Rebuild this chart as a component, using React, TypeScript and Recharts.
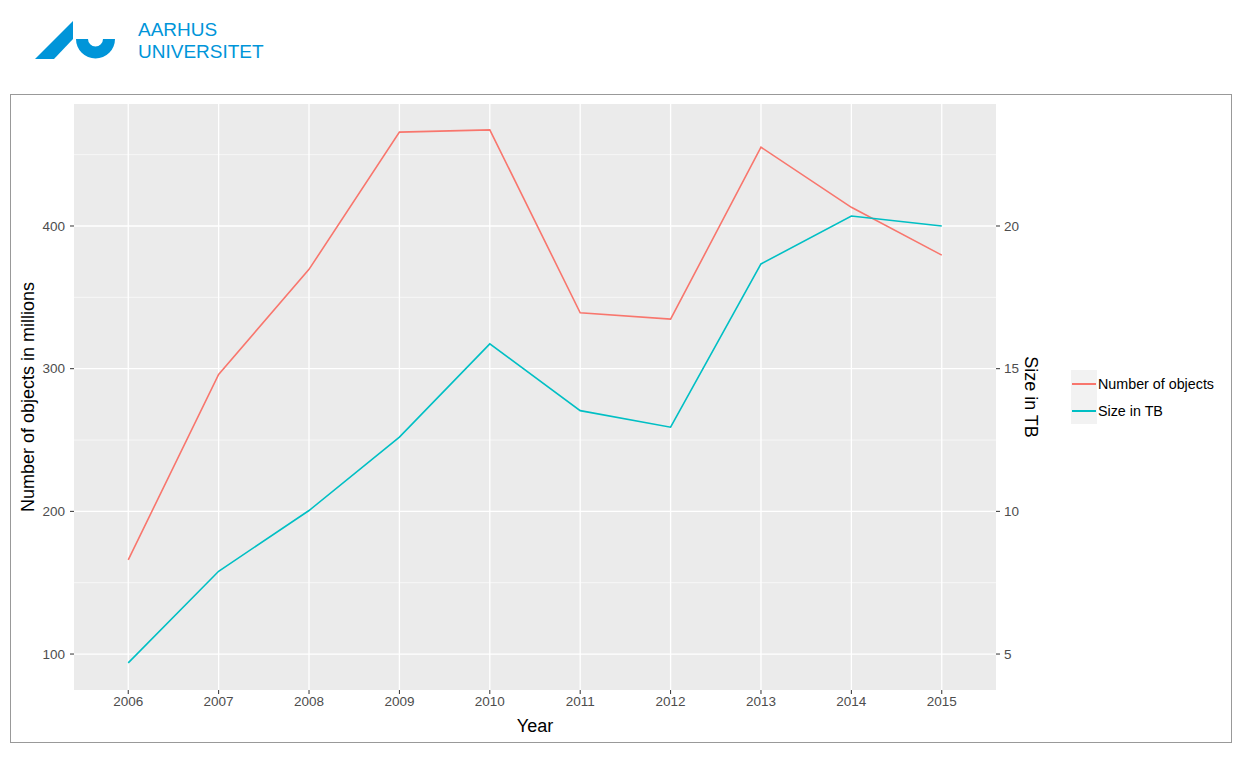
import { LineChart, Line, XAxis, YAxis, CartesianGrid, ReferenceLine } from "recharts";

const YEARS = [2006, 2007, 2008, 2009, 2010, 2011, 2012, 2013, 2014, 2015];
const OBJECTS = [166, 296, 369.6, 465.8, 467.4, 339.2, 334.7, 455.2, 413.1, 379.6];
const SIZE_TB = [4.69, 7.9, 10.03, 12.6, 15.87, 13.53, 12.95, 18.67, 20.35, 20.0];

const LEFT_TICKS = [100, 200, 300, 400];
const RIGHT_TICKS = [5, 10, 15, 20];
const MINOR_TICKS = [150, 250, 350, 450];

const SERIES = [
  { key: "objects", name: "Number of objects", color: "#F8766D", axis: "left" },
  { key: "size", name: "Size in TB", color: "#00BFC4", axis: "right" },
];

const data = YEARS.map((year, i) => ({
  year,
  objects: OBJECTS[i],
  size: SIZE_TB[i],
}));

const FONT = "'Liberation Sans', Arial, Helvetica, sans-serif";
const AU_BLUE = "#0095D9";
const tickStyle = { fill: "#4D4D4D", fontSize: 13.5, fontFamily: FONT };
const titleStyle = { fill: "#000", fontSize: 18, fontFamily: FONT };

function Logo() {
  return (
    <div style={{ position: "absolute", left: 0, top: 0 }}>
      <svg width={130} height={70} style={{ position: "absolute", left: 0, top: 0 }}>
        <polygon points="35,59 73,21 73,39 54,59" fill={AU_BLUE} />
        {/* half ring */}
        <path
          d="M76,39 A19.5,19.5 0 0 0 115,39 L103,39 A7.5,7.5 0 0 1 88,39 Z"
          fill={AU_BLUE}
        />
      </svg>
      <div
        style={{
          position: "absolute",
          left: 138,
          top: 19,
          color: AU_BLUE,
          fontFamily: FONT,
          fontSize: 19,
          lineHeight: "22px",
          whiteSpace: "nowrap",
        }}
      >
        AARHUS
        <br />
        UNIVERSITET
      </div>
    </div>
  );
}

function LegendBox() {
  return (
    <div style={{ position: "absolute", left: 1071, top: 370, fontFamily: FONT }}>
      {SERIES.map((s) => (
        <div key={s.key} style={{ display: "flex", alignItems: "center", height: 27 }}>
          <div style={{ width: 26, height: 27, background: "#F2F2F2", position: "relative" }}>
            <div
              style={{
                position: "absolute",
                left: 1,
                right: 1,
                top: 12.5,
                height: 2,
                background: s.color,
              }}
            />
          </div>
          <span style={{ fontSize: 14.3, color: "#000", marginLeft: 1, whiteSpace: "nowrap" }}>
            {s.name}
          </span>
        </div>
      ))}
    </div>
  );
}

export default function App() {
  return (
    <div
      style={{
        position: "absolute",
        left: 0,
        top: 0,
        width: 1242,
        height: 782,
        background: "#fff",
      }}
    >
      <Logo />
      <div
        style={{
          position: "absolute",
          left: 10,
          top: 94,
          width: 1220,
          height: 647,
          border: "1px solid #999",
        }}
      >
        <LineChart
          width={1220}
          height={647}
          data={data}
          margin={{ top: 9, right: 180, bottom: 7, left: 0 }}
        >
          <CartesianGrid
            yAxisId="left"
            fill="#EBEBEB"
            stroke="#FFFFFF"
            strokeWidth={1.3}
            horizontalValues={LEFT_TICKS}
            verticalValues={YEARS}
          />
          {MINOR_TICKS.map((v) => (
            <ReferenceLine
              key={v}
              yAxisId="left"
              y={v}
              stroke="#FFFFFF"
              strokeWidth={0.6}
            />
          ))}
          <XAxis
            dataKey="year"
            type="number"
            domain={[2005.4, 2015.6]}
            ticks={YEARS}
            allowDataOverflow
            height={45}
            axisLine={false}
            tickLine={{ stroke: "#333", strokeWidth: 1 }}
            tickSize={4}
            tickMargin={2}
            tick={tickStyle}
            label={{ value: "Year", position: "insideBottom", offset: 3, style: titleStyle }}
          />
          <YAxis
            yAxisId="left"
            orientation="left"
            domain={[74.8, 485.5]}
            ticks={LEFT_TICKS}
            allowDataOverflow
            width={63}
            axisLine={false}
            tickLine={{ stroke: "#333", strokeWidth: 1 }}
            tickSize={4}
            tickMargin={5}
            tick={tickStyle}
            label={{
              value: "Number of objects in millions",
              angle: -90,
              position: "center",
              dx: -15,
              style: { ...titleStyle, textAnchor: "middle" },
            }}
          />
          <YAxis
            yAxisId="right"
            orientation="right"
            domain={[74.8 / 20, 485.5 / 20]}
            ticks={RIGHT_TICKS}
            allowDataOverflow
            width={55}
            axisLine={false}
            tickLine={{ stroke: "#333", strokeWidth: 1 }}
            tickSize={4}
            tickMargin={4}
            tick={tickStyle}
            label={{
              value: "Size in TB",
              angle: 90,
              position: "center",
              dx: 8,
              style: { ...titleStyle, textAnchor: "middle" },
            }}
          />
          {SERIES.map((s) => (
            <Line
              key={s.key}
              yAxisId={s.axis}
              dataKey={s.key}
              name={s.name}
              type="linear"
              stroke={s.color}
              strokeWidth={1.6}
              dot={false}
              activeDot={false}
              isAnimationActive={false}
            />
          ))}
        </LineChart>
      </div>
      <LegendBox />
    </div>
  );
}
